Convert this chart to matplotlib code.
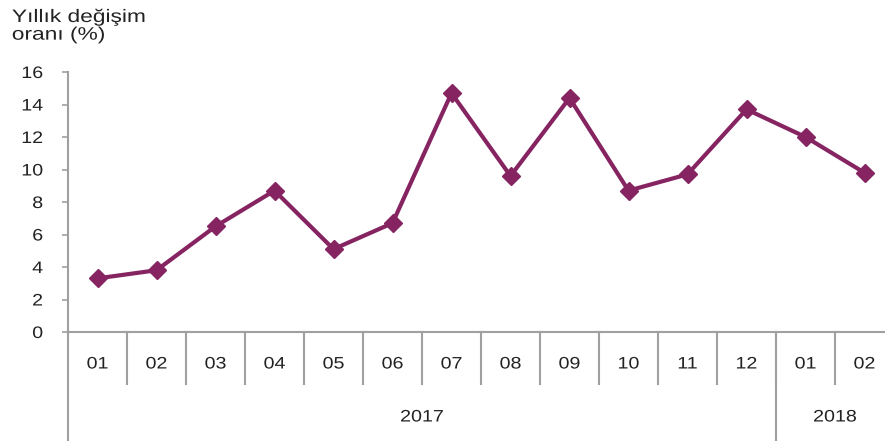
import matplotlib
matplotlib.use("Agg")
import matplotlib.pyplot as plt
import matplotlib.transforms as mtransforms
from matplotlib.patheffects import AbstractPathEffect
from matplotlib.transforms import Affine2D

months = ["01", "02", "03", "04", "05", "06", "07", "08", "09", "10", "11", "12", "01", "02"]
years = ["2017", "2018"]
year_counts = [12, 2]
values = [3.3, 3.8, 6.5, 8.7, 5.1, 6.7, 14.7, 9.6, 14.4, 8.7, 9.7, 13.7, 12.0, 9.8]
yticks = [0, 2, 4, 6, 8, 10, 12, 14, 16]


class StretchX(AbstractPathEffect):
    """Widen glyphs horizontally around an anchor (mimics the wide hinted text)."""
    def __init__(self, sx, anchor='center'):
        super().__init__()
        self.sx = sx
        self.anchor = anchor

    def draw_path(self, renderer, gc, tpath, affine, rgbFace=None):
        ext = tpath.get_extents(affine)
        if self.anchor == 'left':
            cx = ext.x0
        elif self.anchor == 'right':
            cx = ext.x1
        else:
            cx = (ext.x0 + ext.x1) / 2
        new = affine + Affine2D().translate(-cx, 0).scale(self.sx, 1).translate(cx, 0)
        renderer.draw_path(gc, tpath, new, rgbFace)


plt.rcParams['font.family'] = ['Liberation Sans', 'DejaVu Sans']
W, H = 885, 441
fig = plt.figure(figsize=(W / 100, H / 100), dpi=100)
left_px, right_px, zero_px, top_px = 68, 894, 332, 72
ax = fig.add_axes([left_px / W, (H - zero_px) / H, (right_px - left_px) / W, (zero_px - top_px) / H])

color = '#862462'
grey = '#a0a0a0'
txt = '#222222'
x = [i + 0.5 for i in range(len(values))]
ax.plot(x, values, color=color, lw=3, marker='D', ms=9, mec=color, mfc=color, clip_on=False, zorder=3)

ax.set_xlim(0, len(months))
ax.set_ylim(0, 16)
ax.set_yticks(yticks)
ax.set_yticklabels([str(t) for t in yticks], fontsize=12)
ax.set_xticks([])
for s in ['top', 'right']:
    ax.spines[s].set_visible(False)
for s in ['left', 'bottom']:
    ax.spines[s].set_color(grey)
    ax.spines[s].set_linewidth(1.5)
ax.tick_params(axis='y', colors=grey, labelcolor=txt, length=4, width=1.2, pad=14)
for lab in ax.get_yticklabels():
    lab.set_path_effects([StretchX(1.18, 'right')])

# category axis drawn below the plot
trans = mtransforms.blended_transform_factory(ax.transData, ax.transAxes)
unit = 1.0 / (zero_px - top_px)  # axes fraction per pixel
month_sep_bottom = -52 * unit
year_sep_bottom = -110 * unit
for i, m in enumerate(months):
    ax.text(i + 0.5, -32 * unit, m, transform=trans, ha='center', va='center', fontsize=12,
            color=txt, path_effects=[StretchX(1.18, 'center')])
for i in range(1, len(months)):
    ax.plot([i, i], [0, month_sep_bottom], transform=trans, color=grey, lw=1.5, clip_on=False)
ax.plot([0, 0], [0, year_sep_bottom], transform=trans, color=grey, lw=1.5, clip_on=False)
start = 0
for yr, n in zip(years, year_counts):
    ax.text(start + n / 2, -85 * unit, yr, transform=trans, ha='center', va='center', fontsize=12,
            color=txt, path_effects=[StretchX(1.18, 'center')])
    start += n
    if start < len(months):
        ax.plot([start, start], [0, year_sep_bottom], transform=trans, color=grey, lw=1.5, clip_on=False)

fig.text(12 / W, 1 - 9 / H, "Yıllık değişim\noranı (%)", ha='left', va='top', fontsize=13,
         color=txt, linespacing=1.05, path_effects=[StretchX(1.26, 'left')])

fig.savefig("out.png", dpi=100)
